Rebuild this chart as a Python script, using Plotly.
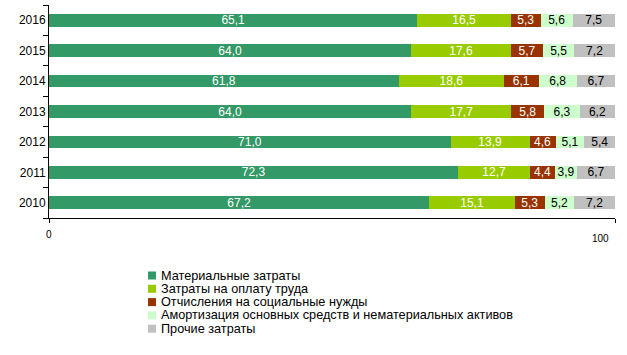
import plotly.graph_objects as go

years = ["2010", "2011", "2012", "2013", "2014", "2015", "2016"]
material = [67.2, 72.3, 71.0, 64.0, 61.8, 64.0, 65.1]
labor = [15.1, 12.7, 13.9, 17.7, 18.6, 17.6, 16.5]
social = [5.3, 4.4, 4.6, 5.8, 6.1, 5.7, 5.3]
amort = [5.2, 3.9, 5.1, 6.3, 6.8, 5.5, 5.6]
other = [7.2, 6.7, 5.4, 6.2, 6.7, 7.2, 7.5]

series_names = [
    "Материальные затраты",
    "Затраты на оплату труда",
    "Отчисления на социальные нужды",
    "Амортизация основных средств и нематериальных активов",
    "Прочие затраты",
]
series_values = [material, labor, social, amort, other]
colors = ["#339966", "#99CC00", "#993300", "#CCFFCC", "#C0C0C0"]
text_colors = ["white", "white", "white", "black", "black"]

FONT = "Arial, 'Liberation Sans', sans-serif"

fig = go.Figure()
for name, vals, col, tcol in zip(series_names, series_values, colors, text_colors):
    fig.add_trace(go.Bar(
        y=years, x=vals, name=name, orientation="h",
        marker=dict(color=col, line=dict(width=0)),
        texttemplate="%{x:.1f}", textposition="inside",
        insidetextanchor="middle",
        textfont=dict(color=tcol, size=12, family=FONT),
        showlegend=False,
    ))

W, H = 627, 355
L, R, T, B = 49, 12, 5, 137
pw, ph = W - L - R, H - T - B

def px_x(x):
    return (x - L) / pw

def px_y(y):
    return (H - B - y) / ph

shapes = []
annotations = []
# manual legend
y0 = 275.5
step = 13.3
for i, (name, col) in enumerate(zip(series_names, colors)):
    yc = y0 + i * step
    shapes.append(dict(type="rect", xref="paper", yref="paper",
                       x0=px_x(148), x1=px_x(156), y0=px_y(yc + 4), y1=px_y(yc - 4),
                       fillcolor=col, line=dict(width=0)))
    annotations.append(dict(xref="paper", yref="paper", x=px_x(159), y=px_y(yc),
                            text=name, showarrow=False, xanchor="left", yanchor="middle",
                            font=dict(size=12.7, color="black", family=FONT)))

# x axis labels
annotations.append(dict(xref="x", yref="paper", x=0, y=px_y(234), text="0",
                        showarrow=False, xanchor="center", yanchor="middle",
                        font=dict(size=10, color="black", family=FONT)))
annotations.append(dict(xref="paper", yref="paper", x=px_x(600), y=px_y(238), text="100",
                        showarrow=False, xanchor="center", yanchor="middle",
                        font=dict(size=10, color="black", family=FONT)))

fig.update_layout(
    barmode="stack",
    bargap=0.58,
    width=W, height=H,
    margin=dict(l=L, r=R, t=T, b=B, autoexpand=False),
    paper_bgcolor="white", plot_bgcolor="white",
    separators=", ",
    font=dict(family=FONT, size=12, color="black"),
    uniformtext=dict(minsize=12, mode="show"),
    shapes=shapes,
    annotations=annotations,
    hovermode=False,
    xaxis=dict(range=[0, 100], showgrid=False, zeroline=False, showline=True,
               linecolor="black", linewidth=1, ticks="outside", ticklen=4,
               tickcolor="black", tickvals=[0, 100], showticklabels=False,
               fixedrange=True, automargin=False),
    yaxis=dict(showgrid=False, zeroline=False, showline=True, linecolor="black",
               linewidth=1, ticks="outside", ticklen=5, tickcolor="black",
               tickson="boundaries", tickfont=dict(size=12, family=FONT),
               categoryorder="array", categoryarray=years, automargin=False,
               fixedrange=True),
)

fig.write_html("out.html", config={"displayModeBar": False, "staticPlot": True},
               post_script="document.body.style.margin='0';document.body.style.padding='0';")
